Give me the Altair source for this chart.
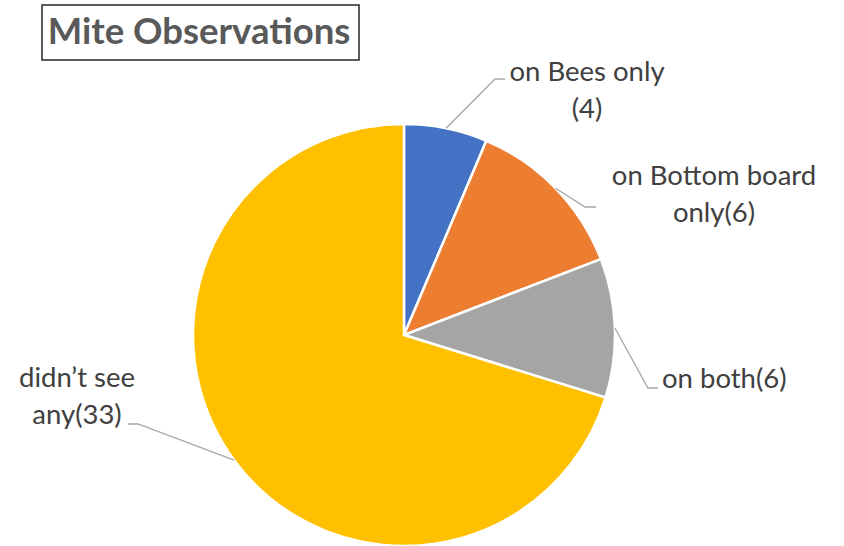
import altair as alt
import pandas as pd
import math

# ---- data ----
categories = ["on Bees only", "on Bottom board only", "on both", "didn't see any"]
values = [3, 6, 5, 33]
label_lines = [["on Bees only", "(4)"], ["on Bottom board", "only(6)"], ["on both(6)"], ["didn\u2019t see", "any(33)"]]
colors = ["#4472C4", "#ED7D31", "#A5A5A5", "#FFC000"]
title_text = "Mite Observations"

# ---- layout (pixels) ----
W, H = 844, 546
CX, CY, R = 404, 335, 211
# leader elbow / end points and label anchors per category
elbows = [(495, 79), (585, 207), (648, 388), (138, 424)]
ends = [(505, 79), (596, 207), (658, 388), (128, 424)]
label_pos = [(587, 81, "center"), (714, 185, "center"), (662, 388, "left"), (77, 387, "center")]
FONT = "Lato"
FS = 27.5

pie_df = pd.DataFrame({"cat": categories, "value": values, "idx": list(range(len(values)))})

# leader lines: start point on the pie edge at the slice's mid angle
total = sum(values)
rows = []
cum = 0
for i, v in enumerate(values):
    mid = (cum + v / 2) / total * 2 * math.pi
    cum += v
    sx = CX + R * math.sin(mid)
    sy = CY - R * math.cos(mid)
    pts = [(sx, sy), elbows[i], ends[i]]
    for k, (px, py) in enumerate(pts):
        rows.append({"cat": categories[i], "k": k, "px": px, "py": py})
lead_df = pd.DataFrame(rows)

lab_df = pd.DataFrame({
    "cat": categories,
    "text": label_lines,
    "px": [p[0] for p in label_pos],
    "py": [p[1] for p in label_pos],
    "al": [p[2] for p in label_pos],
})

xs = alt.Scale(domain=[0, W], range=[0, W])
ys = alt.Scale(domain=[0, H], range=[0, H])

pie = alt.Chart(pie_df).mark_arc(stroke="white", strokeWidth=2.5, radius=R).encode(
    theta=alt.Theta("value:Q", stack=True),
    order=alt.Order("idx:Q"),
    color=alt.Color("cat:N", scale=alt.Scale(domain=categories, range=colors), legend=None),
    x=alt.value(CX),
    y=alt.value(CY),
)

leaders = alt.Chart(lead_df).mark_line(color="#A6A6A6", strokeWidth=1.3).encode(
    x=alt.X("px:Q", scale=xs, axis=None),
    y=alt.Y("py:Q", scale=ys, axis=None),
    detail="cat:N",
    order="k:Q",
)

def label_layer(align):
    return alt.Chart(lab_df).transform_filter(alt.datum.al == align).mark_text(
        font=FONT, fontSize=FS, color="#404040", align=align, baseline="alphabetic",
        lineHeight=37,
    ).encode(
        x=alt.X("px:Q", scale=xs, axis=None),
        y=alt.Y("py:Q", scale=ys, axis=None),
        text="text",
    )

labels = label_layer("center") + label_layer("left")

title_box = alt.Chart(pd.DataFrame({"t": [title_text]})).mark_rect(
    fill="white", stroke="#262626", strokeWidth=1.5
).encode(x=alt.value(42), x2=alt.value(359), y=alt.value(5), y2=alt.value(60))

title = alt.Chart(pd.DataFrame({"t": [title_text]})).mark_text(
    font=FONT, fontSize=36.5, fontWeight="bold", color="#595959", align="center", baseline="alphabetic"
).encode(x=alt.value(199), y=alt.value(44), text="t:N")

chart = alt.layer(pie, leaders, labels, title_box, title).resolve_scale(
    color="independent"
).properties(
    width=W, height=H, padding=0, autosize=alt.AutoSizeParams(type="none")
).configure_view(stroke=None)

chart.save("out.html", embed_options={"renderer": "svg", "actions": False})
